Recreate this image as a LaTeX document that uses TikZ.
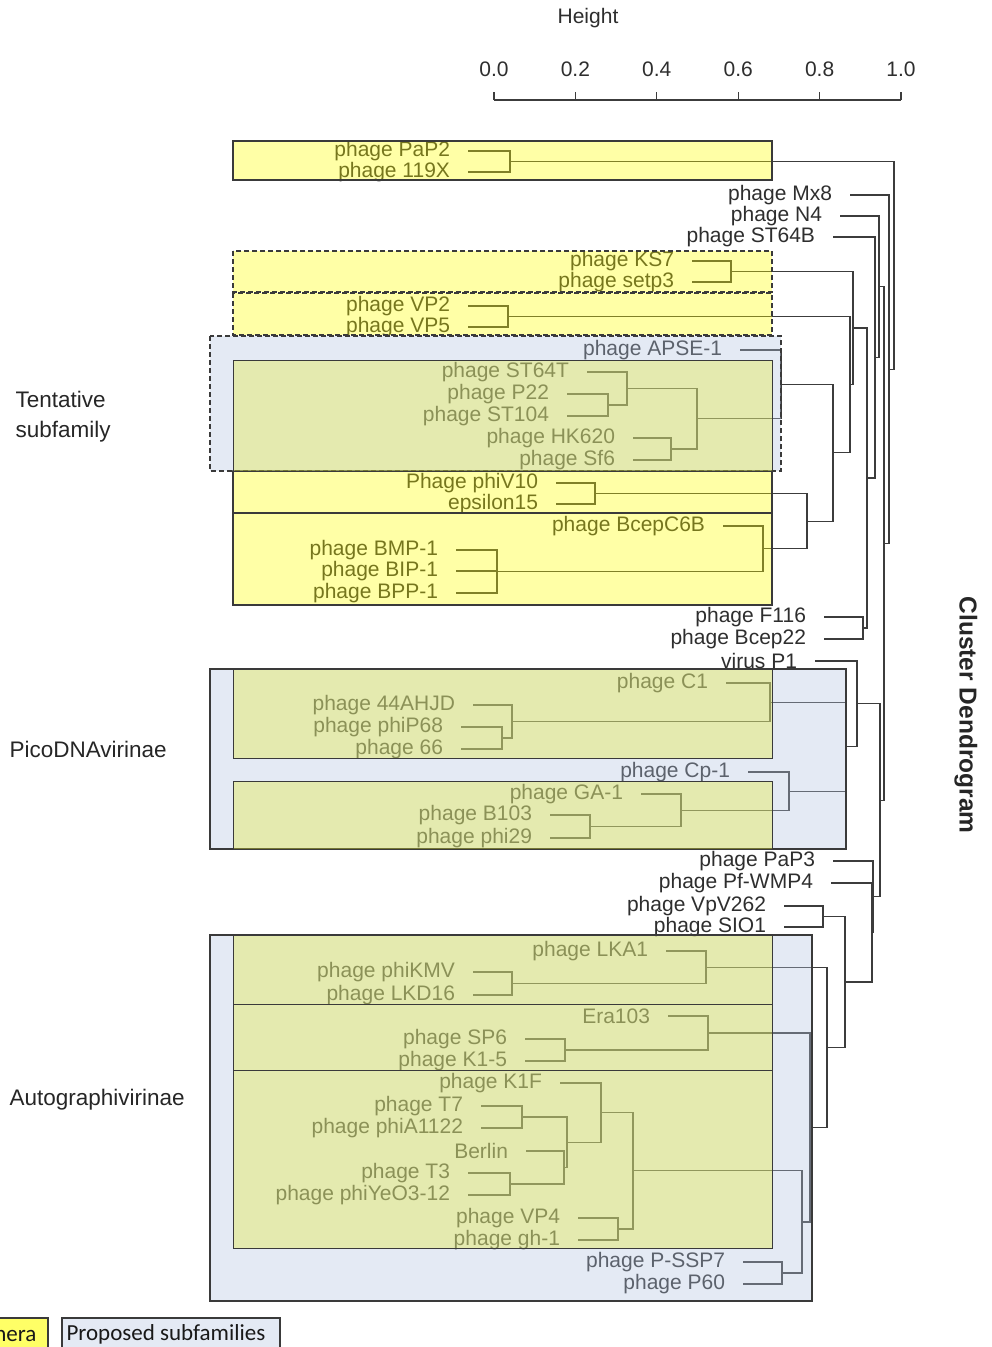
\documentclass[tikz,border=0pt]{standalone}
\usepackage{fontspec}
\setmainfont{Liberation Sans}
\newfontfamily\legendfont{Carlito}
\usetikzlibrary{calc}
\definecolor{treeline}{HTML}{3C3C3C}
\definecolor{labelcolor}{HTML}{2E2E2E}
\definecolor{generabg}{HTML}{FFFF00}
\definecolor{subfambg}{HTML}{B2C3E0}
\definecolor{overlapbg}{HTML}{E4EA30}
\definecolor{boxborder}{HTML}{3A3A3A}
\definecolor{legendyellow}{HTML}{FFFF66}
\definecolor{legendblue}{HTML}{E4EAF4}

% join two children at height #2, the joint is called #1
\newcommand{\clade}[4]{%
  \path ($(#3)!.5!(#4)$) coordinate (#1-mid);
  \coordinate (#1) at (#2,0 |- #1-mid);
  \draw[branch] (#3) -| (#1) |- (#4);
}

\begin{document}
\begin{tikzpicture}[
    x=1pt, y=-1pt,
    font=\fontsize{21}{22}\selectfont,
    branch/.style={draw=treeline, line width=1.2pt},
    leaf/.style={anchor=east, inner sep=0pt, outer xsep=18pt, text=labelcolor},
    group/.style={anchor=west, align=left, text=black!85, font=\fontsize{22.5}{30}\selectfont},
    genbox/.style={fill=generabg, fill opacity=0.35, draw=boxborder, line width=1.1pt},
    subbox/.style={fill=subfambg, fill opacity=0.35, draw=boxborder, line width=1.1pt},
    innerbox/.style={fill=overlapbg, fill opacity=0.35, draw=boxborder, line width=0.8pt},
    dashbox/.style={dashed, dash pattern=on 5pt off 3pt}
]
    \useasboundingbox (0,0) rectangle (992,1347);

    % Axis
    \node[text=labelcolor] (height) at (588,18) {Height};
    \draw[branch] (494,100) -- (901,100);
    \foreach \h [count=\i] in {0.0,0.2,0.4,0.6,0.8,1.0} {
        \node[text=labelcolor] (tick\i) at ({494+407*\h},69) {\h};
        \draw[branch] ({494+407*\h},92) -- ({494+407*\h},100);
    }

    % Title and group labels
    \node[rotate=-90, text=black!85, font=\fontsize{24.5}{26}\selectfont\bfseries] (title) at (966,715) {Cluster Dendrogram};
    \node[group] (tentative) at (12,417) {Tentative\\subfamily};
    \node[group] (pico) at (6,749) {PicoDNAvirinae};
    \node[group] (autogr) at (6,1100) {Autographivirinae};

    % Leaves
    \node[leaf] (pap2) at (468,151) {phage PaP2};
    \node[leaf] (x119) at (468,172) {phage 119X};
    \node[leaf] (mx8) at (850,195) {phage Mx8};
    \node[leaf] (n4) at (840,216) {phage N4};
    \node[leaf] (st64b) at (833,237) {phage ST64B};
    \node[leaf] (ks7) at (692,261) {phage KS7};
    \node[leaf] (setp3) at (692,282) {phage setp3};
    \node[leaf] (vp2) at (468,306) {phage VP2};
    \node[leaf] (vp5) at (468,327) {phage VP5};
    \node[leaf] (apse) at (740,350) {phage APSE-1};
    \node[leaf] (st64t) at (587,372) {phage ST64T};
    \node[leaf] (p22) at (567,394) {phage P22};
    \node[leaf] (st104) at (567,416) {phage ST104};
    \node[leaf] (hk620) at (633,438) {phage HK620};
    \node[leaf] (sf6) at (633,460) {phage Sf6};
    \node[leaf] (phiv10) at (556,483) {Phage phiV10};
    \node[leaf] (eps15) at (556,504) {epsilon15};
    \node[leaf] (bcepc6b) at (723,526) {phage BcepC6B};
    \node[leaf] (bmp) at (456,550) {phage BMP-1};
    \node[leaf] (bip) at (456,571) {phage BIP-1};
    \node[leaf] (bpp) at (456,593) {phage BPP-1};
    \node[leaf] (f116) at (824,617) {phage F116};
    \node[leaf] (bcep22) at (824,639) {phage Bcep22};
    \node[leaf] (p1) at (815,661) {virus P1};
    \node[leaf] (c1) at (726,683) {phage C1};
    \node[leaf] (ahjd) at (473,705) {phage 44AHJD};
    \node[leaf] (phip68) at (461,727) {phage phiP68};
    \node[leaf] (ph66) at (461,749) {phage 66};
    \node[leaf] (cp1) at (748,772) {phage Cp-1};
    \node[leaf] (ga1) at (641,794) {phage GA-1};
    \node[leaf] (b103) at (550,815) {phage B103};
    \node[leaf] (phi29) at (550,838) {phage phi29};
    \node[leaf] (pap3) at (833,861) {phage PaP3};
    \node[leaf] (pfwmp4) at (831,883) {phage Pf-WMP4};
    \node[leaf] (vpv262) at (784,906) {phage VpV262};
    \node[leaf] (sio1) at (784,927) {phage SIO1};
    \node[leaf] (lka1) at (666,951) {phage LKA1};
    \node[leaf] (phikmv) at (473,972) {phage phiKMV};
    \node[leaf] (lkd16) at (473,995) {phage LKD16};
    \node[leaf] (era103) at (668,1016) {Era103};
    \node[leaf] (sp6) at (525,1039) {phage SP6};
    \node[leaf] (k15) at (525,1061) {phage K1-5};
    \node[leaf] (k1f) at (560,1083) {phage K1F};
    \node[leaf] (t7) at (481,1106) {phage T7};
    \node[leaf] (phia) at (481,1128) {phage phiA1122};
    \node[leaf] (berlin) at (526,1151) {Berlin};
    \node[leaf] (t3) at (468,1173) {phage T3};
    \node[leaf] (phiyeo) at (468,1195) {phage phiYeO3-12};
    \node[leaf] (vp4) at (578,1218) {phage VP4};
    \node[leaf] (gh1) at (578,1240) {phage gh-1};
    \node[leaf] (pssp7) at (743,1262) {phage P-SSP7};
    \node[leaf] (p60) at (743,1284) {phage P60};

    % Upper part of the tree
    \clade{cPaP2}{510}{pap2.east}{x119.east}
    \clade{cKS7}{731}{ks7.east}{setp3.east}
    \clade{cVP2}{508}{vp2.east}{vp5.east}
    \clade{cP22}{608}{p22.east}{st104.east}
    \clade{cST64T}{627}{st64t.east}{cP22}
    \clade{cHK}{671}{hk620.east}{sf6.east}
    \clade{cSal}{697}{cST64T}{cHK}
    \clade{cAPSE}{781}{apse.east}{cSal}
    \clade{cV10}{595}{phiv10.east}{eps15.east}
    \clade{cBMP}{497}{bmp.east}{bpp.east}
    \draw[branch] (bip.east) -- (bip.east -| cBMP);
    \clade{cC6B}{763}{bcepc6b.east}{cBMP}
    \clade{cQ}{807}{cV10}{cC6B}
    \clade{cS}{833}{cAPSE}{cQ}
    \clade{cT}{850}{cVP2}{cS}
    \clade{cU}{853}{cKS7}{cT}
    \clade{cF116}{863}{f116.east}{bcep22.east}
    \clade{cV}{867}{cU}{cF116}
    \clade{cW}{875}{st64b.east}{cV}
    \clade{cY}{879}{n4.east}{cW}

    % PicoDNAvirinae part
    \clade{cP68}{502}{phip68.east}{ph66.east}
    \clade{cAHJD}{512}{ahjd.east}{cP68}
    \clade{cC1}{770}{c1.east}{cAHJD}
    \clade{cB103}{590}{b103.east}{phi29.east}
    \clade{cGA}{681}{ga1.east}{cB103}
    \clade{cCp}{789}{cp1.east}{cGA}
    \clade{cK}{846}{cC1}{cCp}
    \clade{cM}{857}{p1.east}{cK}

    % Autographivirinae part
    \clade{cV262}{823}{vpv262.east}{sio1.east}
    \clade{cKMV}{512}{phikmv.east}{lkd16.east}
    \clade{cLKA}{706}{lka1.east}{cKMV}
    \clade{cSP6}{565}{sp6.east}{k15.east}
    \clade{cEra}{708}{era103.east}{cSP6}
    \clade{cT7}{522}{t7.east}{phia.east}
    \clade{cT3}{510}{t3.east}{phiyeo.east}
    \clade{cBer}{564}{berlin.east}{cT3}
    \clade{cB}{567}{cT7}{cBer}
    \clade{cK1F}{601}{k1f.east}{cB}
    \clade{cVP4}{618}{vp4.east}{gh1.east}
    \clade{cD}{633}{cK1F}{cVP4}
    \clade{cPSSP}{782}{pssp7.east}{p60.east}
    \clade{cE}{802}{cD}{cPSSP}
    \clade{cF}{810}{cEra}{cE}
    \clade{cG}{827}{cLKA}{cF}
    \clade{cI}{845}{cV262}{cG}
    \clade{cH}{872}{pfwmp4.east}{cI}
    \clade{cL}{873}{pap3.east}{cH}

    % Root
    \clade{cZ}{880}{cM}{cL}
    \clade{cX}{884}{cY}{cZ}
    \clade{cMx}{889}{mx8.east}{cX}
    \clade{root}{894}{cPaP2}{cMx}

    % Genera boxes
    \draw[genbox] (233,141) rectangle (772,180);
    \draw[genbox, dashbox] (233,251) rectangle (772,292);
    \draw[genbox, dashbox] (233,293) rectangle (772,335);
    \draw[genbox] (233,471) rectangle (772,513);
    \draw[genbox] (233,513) rectangle (772,605);

    % Subfamily boxes
    \draw[subbox, dashbox] (210,336) rectangle (781,471);
    \draw[subbox] (210,669) rectangle (846,849);
    \draw[subbox] (210,935) rectangle (812,1301);

    % Genera inside subfamilies
    \draw[innerbox] (233,360) rectangle (772,471);
    \draw[innerbox] (233,669) rectangle (772,758);
    \draw[innerbox] (233,781) rectangle (772,849);
    \draw[innerbox] (233,935) rectangle (772,1004);
    \draw[innerbox] (233,1004) rectangle (772,1070);
    \draw[innerbox] (233,1070) rectangle (772,1248);

    % Legend
    \draw[fill=legendyellow, draw=boxborder, line width=1.1pt] (-80,1318) rectangle (48,1362);
    \node[anchor=east, font=\legendfont\fontsize{23}{26}\selectfont, text=black!90] (legGenera) at (40,1334) {Genera};
    \draw[fill=legendblue, draw=boxborder, line width=1.1pt] (62,1318) rectangle (280,1362);
    \node[anchor=west, font=\legendfont\fontsize{23}{26}\selectfont, text=black!90] (legSub) at (63,1334) {Proposed subfamilies};

\end{tikzpicture}
\end{document}
